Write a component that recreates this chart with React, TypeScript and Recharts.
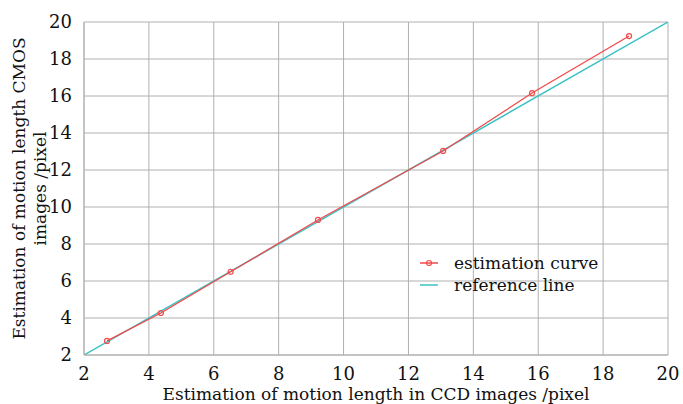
import React from 'react';
import { LineChart, Line, XAxis, YAxis, CartesianGrid, Label } from 'recharts';

const ccdEstimates = [2.71, 4.37, 6.52, 9.21, 13.07, 15.81, 18.8];
const cmosEstimates = [2.76, 4.27, 6.5, 9.3, 13.03, 16.16, 19.24];
const referenceEnds = [2, 20];
const axisTicks = [2, 4, 6, 8, 10, 12, 14, 16, 18, 20];

const estimationData = ccdEstimates.map((x, i) => ({ x, y: cmosEstimates[i] }));
const referenceData = referenceEnds.map((v) => ({ x: v, y: v }));

const FONT = '"DejaVu Serif", serif';
const RED = '#f24a4a';
const CYAN = '#3cc0c4';
const INK = '#111';

const LegendBox: React.FC = () => (
  <div style={{ position: 'absolute', left: 418, top: 252, fontFamily: FONT, fontSize: 17, color: INK, lineHeight: '22px' }}>
    <div style={{ display: 'flex', alignItems: 'center' }}>
      <svg width={22} height={10} style={{ marginRight: 14 }}>
        <line x1={2} y1={5} x2={20} y2={5} stroke={RED} strokeWidth={1.5} />
        <circle cx={11} cy={5} r={2.5} fill="none" stroke={RED} strokeWidth={1.2} />
      </svg>
      <span>estimation curve</span>
    </div>
    <div style={{ display: 'flex', alignItems: 'center' }}>
      <svg width={22} height={10} style={{ marginRight: 14 }}>
        <line x1={2} y1={5} x2={20} y2={5} stroke={CYAN} strokeWidth={1.5} />
      </svg>
      <span>reference line</span>
    </div>
  </div>
);

// two-line rotated title for the y axis
const YTitle: React.FC<any> = ({ viewBox }) => {
  const cx = 25;
  const cy = viewBox.y + viewBox.height / 2;
  return (
    <text transform={`rotate(-90, ${cx}, ${cy})`} x={cx} y={cy} textAnchor="middle" fontFamily={FONT} fontSize={17} fill={INK}>
      <tspan x={cx} dy={0}>Estimation of motion length CMOS</tspan>
      <tspan x={cx} dy={21}>images /pixel</tspan>
    </text>
  );
};

export default function App() {
  return (
    <div style={{ position: 'absolute', left: 0, top: 0, width: 683, height: 404, background: '#fff' }}>
      <LineChart width={683} height={404} margin={{ top: 22, right: 15, bottom: 0, left: 24 }}>
        <CartesianGrid stroke="#b0b0b0" strokeWidth={1} />
        <XAxis
          type="number"
          dataKey="x"
          domain={[2, 20]}
          ticks={axisTicks}
          allowDataOverflow
          height={49}
          axisLine={{ stroke: '#b0b0b0' }}
          tickLine={false}
          tick={{ fill: INK, fontSize: 18, fontFamily: FONT }}
          tickMargin={6}
        >
          <Label value="Estimation of motion length in CCD images /pixel" position="insideBottom" offset={4} style={{ fill: INK, fontSize: 17, fontFamily: FONT }} />
        </XAxis>
        <YAxis
          type="number"
          dataKey="y"
          domain={[2, 20]}
          ticks={axisTicks}
          allowDataOverflow
          width={60}
          axisLine={{ stroke: '#b0b0b0' }}
          tickLine={false}
          tick={{ fill: INK, fontSize: 18, fontFamily: FONT }}
          tickMargin={6}
        >
          <Label content={<YTitle />} />
        </YAxis>
        <Line
          data={referenceData}
          dataKey="y"
          type="linear"
          stroke={CYAN}
          strokeWidth={1.5}
          dot={false}
          isAnimationActive={false}
        />
        <Line
          data={estimationData}
          dataKey="y"
          type="linear"
          stroke={RED}
          strokeWidth={1.3}
          dot={{ r: 2.5, stroke: RED, strokeWidth: 1.2, fill: 'none' }}
          isAnimationActive={false}
        />
      </LineChart>
      <LegendBox />
    </div>
  );
}
